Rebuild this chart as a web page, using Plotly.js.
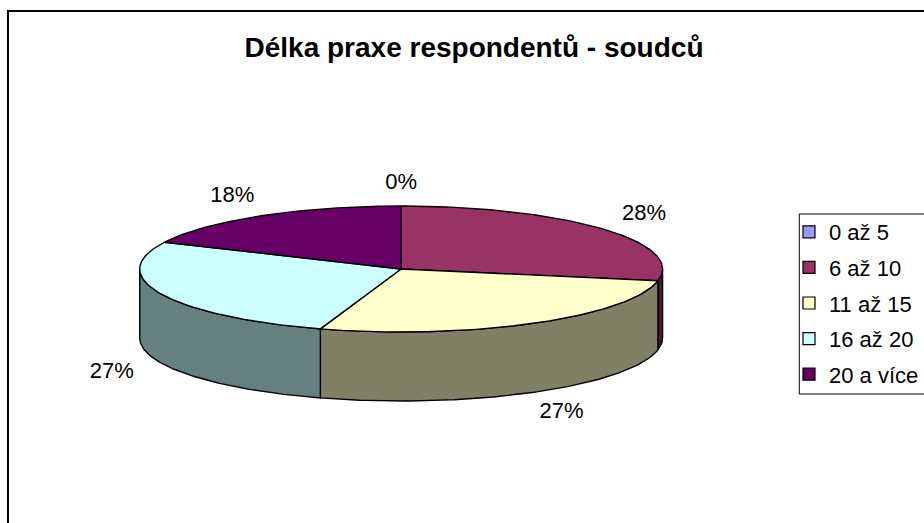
<!DOCTYPE html>
<html>
<head>
<meta charset="utf-8">
<script src="https://cdn.plot.ly/plotly-3.0.1.min.js"></script>
<style>html,body{margin:0;padding:0;background:#fff;overflow:hidden;}#chart{width:924px;height:523px;}</style>
</head>
<body>
<div id="chart"></div>
<script>
// ---- data ----
const categories = ['0 až 5', '6 až 10', '11 až 15', '16 až 20', '20 a více'];
const values = [0, 28, 27, 27, 18];
const topColors = ['#9999FF', '#993366', '#FFFFCC', '#CCFFFF', '#660066'];
const sideColors = ['#4D4D80', '#4D1A33', '#808066', '#668080', '#330033'];
const chartTitle = 'Délka praxe respondentů - soudců';

// ---- geometry of the tilted pie (pixel-like axis units) ----
const W = 924, H = 523;
const cx = 402, cy = 269, rx = 262, ry = 63, depth = 69;
const FONT = 'Arial, "Liberation Sans", sans-serif';

function pt(deg, dy) {
  const t = deg * Math.PI / 180;
  return [cx + rx * Math.sin(t), cy - ry * Math.cos(t) + (dy || 0)];
}

const total = values.reduce((a, b) => a + b, 0);
const traces = [];
const slices = [];
let acc = 0;
values.forEach((v, i) => {
  const a = acc / total * 360;
  acc += v;
  const b = acc / total * 360;
  slices.push({a, b, i, v});
});

// side walls (front half only: 90..270 deg)
slices.forEach(s => {
  if (s.v <= 0) return;
  const a = Math.max(s.a, 90), b = Math.min(s.b, 270);
  if (b <= a) return;
  const xs = [], ys = [];
  const n = Math.max(2, Math.ceil(b - a));
  for (let k = 0; k <= n; k++) { const p = pt(a + (b - a) * k / n); xs.push(p[0]); ys.push(p[1]); }
  for (let k = n; k >= 0; k--) { const p = pt(a + (b - a) * k / n, depth); xs.push(p[0]); ys.push(p[1]); }
  xs.push(xs[0]); ys.push(ys[0]);
  traces.push({type: 'scatter', mode: 'lines', x: xs, y: ys, fill: 'toself',
    fillcolor: sideColors[s.i], line: {color: '#000', width: 1.4},
    showlegend: false, hoverinfo: 'skip'});
});

// top faces
slices.forEach(s => {
  if (s.v <= 0) return;
  const xs = [cx], ys = [cy];
  const n = Math.max(2, Math.ceil(s.b - s.a));
  for (let k = 0; k <= n; k++) { const p = pt(s.a + (s.b - s.a) * k / n); xs.push(p[0]); ys.push(p[1]); }
  xs.push(cx); ys.push(cy);
  traces.push({type: 'scatter', mode: 'lines', x: xs, y: ys, fill: 'toself',
    fillcolor: topColors[s.i], line: {color: '#000', width: 1.4},
    showlegend: false, hoverinfo: 'skip'});
});

// percentage labels placed outside each slice's mid-angle
const lx = [], ly = [], lt = [];
slices.forEach(s => {
  const m = (s.a + s.b) / 2 * Math.PI / 180;
  const c = Math.cos(m);
  lx.push(cx + 316 * Math.sin(m));
  ly.push(cy - 86 * c + (c < 0 ? depth : 0));
  lt.push(Math.round(s.v / total * 100) + '%');
});
traces.push({type: 'scatter', mode: 'text', x: lx, y: ly, text: lt,
  textposition: 'middle center', textfont: {family: FONT, size: 22, color: '#000'},
  showlegend: false, hoverinfo: 'skip'});

// legend entries
categories.forEach((c, i) => {
  traces.push({type: 'scatter', mode: 'markers', x: [null], y: [null], name: c,
    legendgroup: 'g' + i,
    marker: {symbol: 'square', size: 12, color: topColors[i], line: {color: '#000', width: 1.2}}});
});

const layout = {
  width: W, height: H,
  margin: {l: 0, r: 0, t: 0, b: 0},
  paper_bgcolor: '#fff', plot_bgcolor: '#fff',
  xaxis: {range: [0, W], visible: false, fixedrange: true},
  yaxis: {range: [H, 0], visible: false, fixedrange: true},
  title: {text: '<b>' + chartTitle + '</b>', font: {family: FONT, size: 28, color: '#000'},
    x: 474 / W, xanchor: 'center', y: 1 - 47 / H, yanchor: 'middle'},
  showlegend: true,
  legend: {x: 791 / W, xanchor: 'left', y: 1 - 211 / H, yanchor: 'top',
    font: {family: FONT, size: 22, color: '#000'}, tracegroupgap: 4,
    traceorder: 'grouped', bgcolor: 'rgba(255,255,255,0)', bordercolor: 'rgba(255,255,255,0)', borderwidth: 0},
  shapes: [
    {type: 'path', xref: 'paper', yref: 'paper',
      path: 'M 1.3 ' + (1 - 11 / H) + ' L ' + (8 / W) + ' ' + (1 - 11 / H) + ' L ' + (8 / W) + ' -0.3',
      line: {color: '#000', width: 2}, layer: 'below'},
    {type: 'path', xref: 'paper', yref: 'paper',
      path: 'M 1.3 ' + (1 - 214 / H) + ' L ' + (801 / W) + ' ' + (1 - 214 / H) +
            ' L ' + (801 / W) + ' ' + (1 - 394 / H) + ' L 1.3 ' + (1 - 394 / H),
      line: {color: '#000', width: 1}, layer: 'below'}
  ]
};

Plotly.newPlot('chart', traces, layout, {displayModeBar: false, staticPlot: true});
</script>
</body>
</html>
